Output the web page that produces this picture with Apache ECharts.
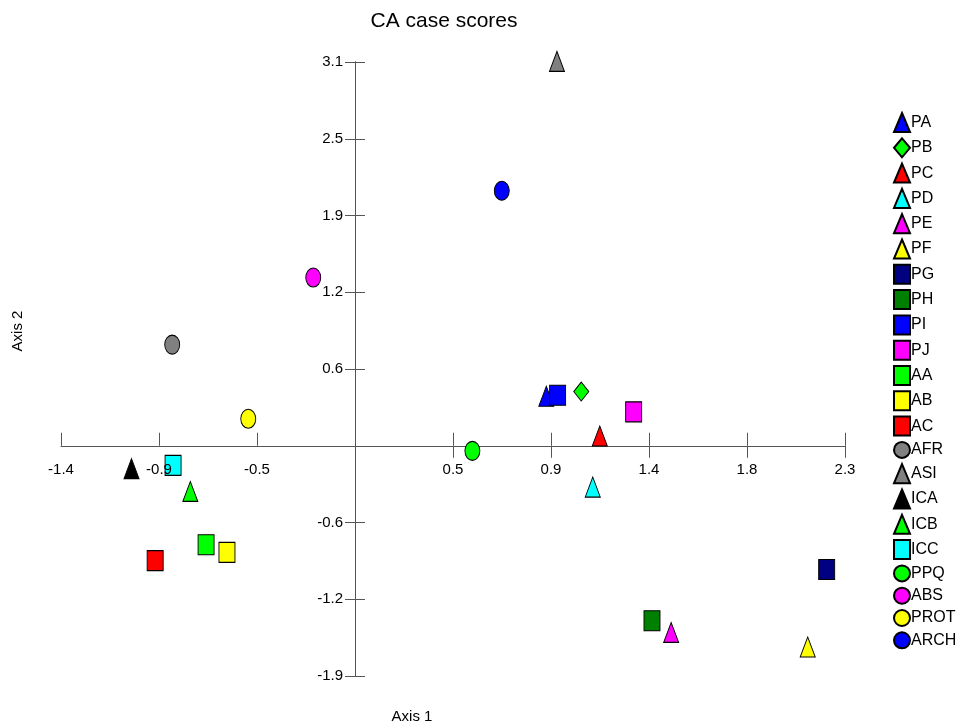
<!DOCTYPE html>
<html>
<head>
<meta charset="utf-8">
<style>html,body{margin:0;padding:0;background:#fff}#chart{width:960px;height:726px}</style>
<script src="https://cdn.jsdelivr.net/npm/echarts@6/dist/echarts.min.js"></script>
</head>
<body>
<div id="chart"></div>
<script>
// ---- data ----
const caseNames = ['PA','PB','PC','PD','PE','PF','PG','PH','PI','PJ','AA','AB','AC','AFR','ASI','ICA','ICB','ICC','PPQ','ABS','PROT','ARCH'];
const axis1Scores = [0.898, 1.062, 1.149, 1.116, 1.484, 2.125, 2.214, 1.394, 0.951, 1.308, -0.699, -0.601, -0.938, -0.858, 0.948, -1.049, -0.773, -0.854, 0.551, -0.196, -0.501, 0.689];
const axis2Scores = [0.400, 0.438, 0.079, -0.334, -1.508, -1.626, -1.000, -1.414, 0.408, 0.274, -0.800, -0.861, -0.928, 0.817, 3.105, -0.185, -0.369, -0.159, -0.041, 1.359, 0.218, 2.060];
const xTickStep = 0.46, xMin = -1.38, xMax = 2.3;
const yTickStep = 0.62, yMin = -1.86, yMax = 3.1;
const xPositiveTicks = [0.46, 0.92, 1.38, 1.84, 2.3];

// ---- styles ----
const markerShape = ['triangle','diamond','triangle','triangle','triangle','triangle','rect','rect','rect','rect','rect','rect','rect','circle','triangle','triangle','triangle','rect','circle','circle','circle','circle'];
const markerColor = ['#0000ff','#00ff00','#ff0000','#00ffff','#ff00ff','#ffff00','#000080','#008000','#0000ff','#ff00ff','#00ff00','#ffff00','#ff0000','#808080','#808080','#000000','#00ff00','#00ffff','#00ff00','#ff00ff','#ffff00','#0000ff'];
const shapeSize = {triangle:[15,20], rect:[16,20], circle:[15,19], diamond:[15,19]};

const FONT = 'Liberation Sans, Arial, sans-serif';
const AXC = '#555';
const fmt = v => Math.abs(v) < 1e-9 ? '' : v.toFixed(1);
const GRID = {left: 61, right: 115, top: 62, bottom: 50};
const W = 960, H = 726;

const series = caseNames.map((n, i) => ({
  name: n,
  type: 'scatter',
  xAxisIndex: 0, yAxisIndex: 0,
  clip: false,
  symbol: markerShape[i],
  symbolSize: shapeSize[markerShape[i]],
  itemStyle: {color: markerColor[i], borderColor: '#000', borderWidth: 1, opacity: 1},
  emphasis: {disabled: true},
  data: [[axis1Scores[i], axis2Scores[i]]]
}));

const lineStyle = {show: true, onZero: false, lineStyle: {color: AXC, width: 1}};

const chart = echarts.init(document.getElementById('chart'), null, {renderer: 'canvas'});
chart.setOption({
  animation: false,
  backgroundColor: '#fff',
  textStyle: {fontFamily: FONT},
  title: {
    text: 'CA case scores', left: 444, top: 11, padding: 0, textAlign: 'center',
    textStyle: {fontFamily: FONT, fontSize: 21, fontWeight: 'normal', color: '#000'}
  },
  legend: {
    orient: 'vertical', left: 893, top: 112, padding: 0,
    itemWidth: 16, itemHeight: 19, itemGap: 4.3,
    symbolKeepAspect: false,
    selectedMode: false,
    textStyle: {fontFamily: FONT, fontSize: 16, lineHeight: 17, color: '#000', padding: [0,0,0,-4]},
    data: caseNames
  },
  grid: Object.assign({containLabel: false}, GRID),
  xAxis: [{
    type: 'value', position: 'bottom', min: xMin, max: xMax, interval: xTickStep,
    axisLine: lineStyle,
    axisTick: {show: true, inside: true, length: 13, lineStyle: {color: AXC}},
    axisLabel: {show: false},
    splitLine: {show: false}
  }, {
    type: 'value', position: 'top', min: xMin, max: xMax, interval: xTickStep, z: 3,
    axisLine: {show: false, onZero: false},
    axisTick: {show: true, inside: true, length: 12, lineStyle: {color: AXC}, customValues: xPositiveTicks},
    axisLabel: {show: true, inside: true, margin: 17, formatter: fmt, color: '#000', fontSize: 15, fontFamily: FONT, showMinLabel: true, showMaxLabel: true, hideOverlap: false},
    splitLine: {show: false}
  }],
  yAxis: [{
    type: 'value', position: 'left', min: yMin, max: yMax, interval: yTickStep,
    axisLine: lineStyle,
    axisTick: {show: true, inside: false, length: 10, lineStyle: {color: AXC}},
    axisLabel: {show: true, margin: 12, formatter: fmt, color: '#000', fontSize: 15, fontFamily: FONT, showMinLabel: true, showMaxLabel: true},
    splitLine: {show: false}
  }, {
    type: 'value', position: 'right', min: yMin, max: yMax, interval: yTickStep,
    axisLine: lineStyle,
    axisTick: {show: true, inside: false, length: 10, lineStyle: {color: AXC}},
    axisLabel: {show: false},
    splitLine: {show: false}
  }],
  graphic: [{
    type: 'text', x: 412, y: 717,
    style: {text: 'Axis 1', fontFamily: FONT, fontSize: 15, fill: '#000', align: 'center', verticalAlign: 'middle'}
  }, {
    type: 'text', x: 18, y: 331, rotation: Math.PI / 2,
    style: {text: 'Axis 2', fontFamily: FONT, fontSize: 15, fill: '#000', align: 'center', verticalAlign: 'middle'}
  }],
  series: series
});

// Move the axes so they cross at the origin (position of 0 from the library's own scales)
const zeroX = chart.convertToPixel({xAxisIndex: 0}, 0);
const zeroY = chart.convertToPixel({yAxisIndex: 0}, 0);
const leftEdge = GRID.left, rightEdge = W - GRID.right, topEdge = GRID.top, bottomEdge = H - GRID.bottom;
chart.setOption({
  xAxis: [{offset: -(bottomEdge - zeroY)}, {offset: -(zeroY - topEdge)}],
  yAxis: [{offset: -(zeroX - leftEdge)}, {offset: -(rightEdge - zeroX)}]
});
</script>
</body>
</html>
